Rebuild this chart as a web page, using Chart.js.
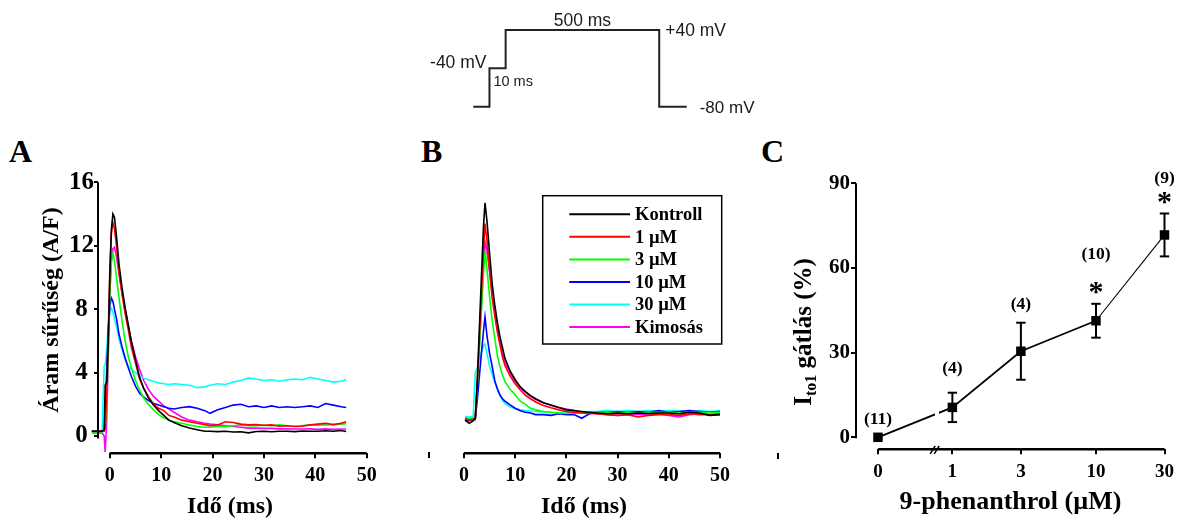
<!DOCTYPE html>
<html lang="hu">
<head>
<meta charset="utf-8">
<title>Ito1 – 9-phenanthrol</title>
<script src="https://cdn.jsdelivr.net/npm/chart.js@4.4.1/dist/chart.umd.min.js"></script>
<style>
  html, body { margin:0; padding:0; background:#fff; }
  body { width:1182px; height:518px; position:relative; overflow:hidden; }
  canvas { position:absolute; left:0; top:0; }
  .panel { position:absolute; font-family:'Liberation Serif','Times New Roman',serif; font-weight:bold; font-size:32px; line-height:32px; color:#000; }
  .stray { position:absolute; width:2px; height:6px; background:#000; }
</style>
</head>
<body>
<div class="panel" style="left:9px;top:135px">A</div>
<div class="panel" style="left:421px;top:135px">B</div>
<div class="panel" style="left:761px;top:135px">C</div>
<div class="stray" style="left:428px;top:452px"></div>
<div class="stray" style="left:777px;top:453px"></div>
<canvas id="proto" width="1182" height="518"></canvas>
<canvas id="chartA" width="1182" height="518"></canvas>
<canvas id="chartB" width="1182" height="518"></canvas>
<canvas id="chartC" width="1182" height="518"></canvas>
<script>
const SERIF = "'Liberation Serif','Times New Roman',serif";
const SANS = "'Liberation Sans',Arial,sans-serif";

// ---------- voltage protocol (schematic, not to scale) ----------
const protocolLevels = ['+40 mV', '-40 mV', '-80 mV'];   // top to bottom
const protocolSteps = ['-80 mV', '-40 mV', '+40 mV', '-80 mV'];
const protocolDurations = [10, 10, 95, 17];
const protocolDurationLabels = ['', '10 ms', '500 ms', ''];

// ---------- traces ----------
const seriesNames = ['Kontroll', '1 µM', '3 µM', '10 µM', '30 µM', 'Kimosás'];
const seriesColors = ['#000000', '#ff0000', '#00ff00', '#0000ff', '#00ffff', '#ff00ff'];
const traceTicks = [0, 10, 20, 30, 40, 50];
const currentTicks = [0, 4, 8, 12, 16];

// Panel A (time in ms, current density in A/F)
const timeA = [-3.5, -1.5, -1.1, -0.9, -0.6, -0.3, 0, 0.3, 0.6, 0.9, 1.3, 1.8, 2.4, 3, 3.6, 4.2, 5, 5.8, 6.6, 7.5, 8.5, 9.5, 10.5, 11.5, 12.5, 14, 15.5, 17, 18.5, 19.5, 21, 22.5, 24, 25.5, 27, 28.5, 30, 31.5, 33, 34.5, 36, 37.5, 39, 40.5, 42, 43.5, 45, 46];
const kontrollA = [0.3, 0.3, 0.4, 3.2, 3.4, 6.0, 10.0, 13.0, 14.0, 13.8, 12.6, 10.8, 9.3, 8.06, 7.0, 5.95, 4.8, 3.7, 3.0, 2.4, 1.95, 1.6, 1.3, 1.0, 0.85, 0.65, 0.5, 0.4, 0.3, 0.3, 0.28, 0.3, 0.25, 0.27, 0.2, 0.28, 0.3, 0.27, 0.3, 0.3, 0.28, 0.32, 0.3, 0.3, 0.33, 0.3, 0.35, 0.28];
const uM1A = [0.3, 0.3, 0.3, 0.5, 2.5, 6.5, 10.5, 12.8, 13.45, 13.1, 12.0, 10.3, 8.9, 7.7, 6.7, 5.6, 4.6, 3.6, 3.0, 2.5, 2.0, 1.75, 1.6, 1.3, 1.2, 1.0, 0.9, 0.8, 0.72, 0.65, 0.7, 0.9, 0.85, 0.75, 0.7, 0.72, 0.68, 0.7, 0.62, 0.65, 0.6, 0.62, 0.7, 0.75, 0.8, 0.72, 0.8, 0.9];
const uM3A = [0.25, 0.25, 0.3, 0.5, 2.0, 5.5, 9.0, 11.0, 11.5, 11.1, 10.0, 8.7, 7.2, 5.95, 5.0, 4.3, 3.5, 2.9, 2.4, 2.0, 1.65, 1.35, 1.15, 1.0, 0.9, 0.8, 0.7, 0.6, 0.55, 0.55, 0.6, 0.6, 0.65, 0.7, 0.65, 0.65, 0.68, 0.65, 0.7, 0.65, 0.62, 0.66, 0.7, 0.68, 0.7, 0.72, 0.75, 0.78];
const uM10A = [0.3, 0.3, 0.3, 1.5, 4.2, 6.5, 8.2, 8.7, 8.5, 8.0, 7.4, 6.4, 5.6, 4.9, 4.3, 3.75, 3.15, 2.7, 2.45, 2.25, 2.05, 1.95, 1.85, 1.75, 1.7, 1.8, 1.85, 1.75, 1.6, 1.43, 1.65, 1.8, 1.95, 2.0, 1.85, 1.9, 1.8, 1.9, 1.8, 1.85, 1.8, 1.85, 1.9, 1.8, 2.05, 1.95, 1.85, 1.8];
const uM30A = [0.3, 0.35, 4.4, 4.5, 5.5, 7.0, 7.9, 8.05, 7.8, 7.4, 6.9, 6.1, 5.4, 4.8, 4.4, 4.2, 4.0, 3.8, 3.65, 3.55, 3.45, 3.35, 3.3, 3.25, 3.3, 3.25, 3.2, 3.05, 3.1, 3.2, 3.3, 3.25, 3.4, 3.5, 3.65, 3.6, 3.5, 3.55, 3.45, 3.55, 3.6, 3.55, 3.7, 3.6, 3.5, 3.4, 3.45, 3.55];
const kimosasA = [0.2, 0.2, 0.0, -1.0, 1.0, 5.0, 9.0, 11.0, 11.8, 11.9, 11.3, 10.2, 9.0, 7.9, 6.9, 6.0, 5.0, 4.2, 3.5, 2.95, 2.5, 2.2, 1.9, 1.7, 1.5, 1.2, 1.0, 0.9, 0.8, 0.75, 0.7, 0.65, 0.6, 0.55, 0.5, 0.5, 0.48, 0.48, 0.45, 0.45, 0.44, 0.44, 0.45, 0.42, 0.45, 0.42, 0.44, 0.44];

// Panel B
const timeB = [0.2, 1.0, 1.8, 2.2, 2.6, 3.0, 3.4, 3.8, 4.1, 4.5, 5.0, 5.5, 6.0, 6.5, 7.0, 7.5, 8.0, 9, 10, 11, 12, 13, 14, 15.5, 17, 18.5, 20, 21.5, 23, 24.5, 26, 28, 30, 32, 34, 36, 38, 40, 42, 44, 46, 48, 50];
const kontrollB = [1.0, 0.8, 0.95, 1.1, 3.5, 6.8, 10.0, 13.2, 14.7, 13.5, 11.5, 9.6, 8.3, 7.2, 6.3, 5.6, 4.9, 4.1, 3.55, 3.1, 2.8, 2.55, 2.35, 2.1, 1.95, 1.8, 1.65, 1.6, 1.55, 1.5, 1.45, 1.4, 1.45, 1.4, 1.45, 1.42, 1.45, 1.45, 1.4, 1.5, 1.45, 1.3, 1.35];
const uM1B = [1.1, 1.0, 1.05, 1.1, 3.45, 6.2, 8.9, 11.7, 13.4, 12.3, 10.4, 8.7, 7.6, 6.6, 5.8, 5.0, 4.45, 3.8, 3.3, 2.9, 2.57, 2.35, 2.15, 1.93, 1.78, 1.65, 1.55, 1.48, 1.45, 1.42, 1.4, 1.35, 1.3, 1.35, 1.2, 1.3, 1.35, 1.35, 1.3, 1.4, 1.35, 1.35, 1.4];
const uM3B = [1.15, 1.1, 1.15, 1.2, 3.2, 5.55, 7.9, 10.2, 11.7, 10.5, 8.8, 7.3, 6.2, 5.1, 4.4, 3.85, 3.43, 2.95, 2.6, 2.2, 2.0, 1.75, 1.65, 1.55, 1.48, 1.45, 1.42, 1.45, 1.45, 1.48, 1.5, 1.5, 1.48, 1.5, 1.45, 1.5, 1.48, 1.5, 1.45, 1.5, 1.5, 1.48, 1.5];
const uM10B = [1.0, 0.95, 1.05, 1.1, 2.3, 3.75, 5.2, 6.6, 7.5, 6.3, 5.2, 4.4, 3.5, 3.0, 2.6, 2.35, 2.2, 1.96, 1.75, 1.6, 1.5, 1.45, 1.35, 1.35, 1.3, 1.4, 1.35, 1.35, 1.12, 1.4, 1.5, 1.5, 1.55, 1.5, 1.55, 1.5, 1.6, 1.5, 1.55, 1.6, 1.55, 1.5, 1.55];
const uM30B = [1.25, 1.2, 1.25, 4.0, 4.3, 4.8, 5.3, 5.7, 5.8, 5.2, 4.4, 3.9, 3.4, 2.95, 2.6, 2.25, 2.05, 1.85, 1.72, 1.65, 1.6, 1.58, 1.55, 1.52, 1.5, 1.48, 1.45, 1.5, 1.5, 1.55, 1.55, 1.6, 1.55, 1.6, 1.55, 1.6, 1.55, 1.6, 1.58, 1.55, 1.6, 1.55, 1.6];
const kimosasB = [1.1, 1.05, 1.1, 1.05, 3.2, 5.7, 8.2, 10.7, 12.25, 11.6, 10.4, 9.1, 7.9, 6.7, 5.9, 5.3, 4.7, 4.0, 3.45, 3.05, 2.75, 2.5, 2.3, 2.1, 1.92, 1.8, 1.7, 1.6, 1.5, 1.45, 1.4, 1.35, 1.3, 1.35, 1.38, 1.35, 1.4, 1.3, 1.2, 1.35, 1.4, 1.35, 1.35];

// ---------- Panel C (concentration-response) ----------
const concentrations = [0, 1, 3, 10, 30];
const concLabels = ['0', '1', '3', '10', '30'];
const inhibition = [0, 10.6, 30.5, 41.3, 71.7];
const inhibitionSEM = [0, 5.2, 10.1, 6.0, 7.6];
const cellCounts = [11, 4, 4, 10, 9];
const significant = [false, false, false, true, true];
const inhibitionTicks = [0, 30, 60, 90];
const nLabelLift = [13, 19.6, 14.2, 44.4, 30.7];

// ---------- helpers ----------
function drawText(ctx, str, x, y, o) {
  ctx.save();
  ctx.font = o.font; ctx.fillStyle = o.color || '#000';
  ctx.textAlign = o.align || 'center'; ctx.textBaseline = o.baseline || 'alphabetic';
  ctx.translate(x, y); if (o.rotate) ctx.rotate(o.rotate);
  ctx.fillText(str, 0, 0);
  ctx.restore();
}
function seg(ctx, x1, y1, x2, y2, w, color) {
  ctx.save(); ctx.strokeStyle = color || '#000'; ctx.lineWidth = w; ctx.lineCap = 'butt';
  ctx.beginPath(); ctx.moveTo(x1, y1); ctx.lineTo(x2, y2); ctx.stroke(); ctx.restore();
}
const setTicks = vals => scale => { scale.ticks = vals.map(v => ({ value: v })); };
const tickGrid = len => ({ display: true, drawOnChartArea: false, drawTicks: true, tickLength: len, lineWidth: 2, color: '#000' });
const tickFont = size => ({ family: SERIF, size: size, weight: 'bold', lineHeight: 1 });
function traceDatasets(time, series) {
  return series.map((vals, i) => ({
    label: seriesNames[i],
    data: time.map((t, j) => ({ x: t, y: vals[j] })),
    borderColor: seriesColors[i], backgroundColor: seriesColors[i],
    borderWidth: 1.6, pointRadius: 0, tension: 0, clip: false
  }));
}
const base = { responsive: false, animation: false, devicePixelRatio: 1,
  plugins: { legend: { display: false }, tooltip: { enabled: false } } };

// ---------- protocol chart ----------
const protoPts = [];
let tCum = 0;
const stepTimes = [];
protocolSteps.forEach((lv, i) => { protoPts.push({ x: tCum, y: lv }); stepTimes.push(tCum); tCum += protocolDurations[i]; });
protoPts.push({ x: tCum, y: protocolSteps[protocolSteps.length - 1] });
stepTimes.push(tCum);

const protoLabels = { id: 'protoLabels', afterDraw(chart) {
  const { ctx, scales: { x, y } } = chart;
  const py = lv => y.getPixelForValue(protocolLevels.indexOf(lv));
  const px = t => x.getPixelForValue(t);
  const f = s => `${s}px ${SANS}`;
  const col = '#1a1a1a';
  drawText(ctx, protocolDurationLabels[2], (px(stepTimes[2]) + px(stepTimes[3])) / 2, py('+40 mV') - 4, { font: f(17.5), color: col });
  drawText(ctx, '+40 mV', px(stepTimes[3]) + 6, py('+40 mV') + 6, { font: f(17.5), align: 'left', color: col });
  drawText(ctx, '-40 mV', px(stepTimes[1]) - 3, py('-40 mV') - 0.6, { font: f(17.5), align: 'right', color: col });
  drawText(ctx, protocolDurationLabels[1], px(stepTimes[1]) + 4, py('-40 mV') + 17.7, { font: f(14.5), align: 'left', color: col });
  drawText(ctx, '-80 mV', px(stepTimes[4]) + 13, py('-80 mV') + 6, { font: f(17), align: 'left', color: col });
} };

new Chart(document.getElementById('proto'), {
  type: 'line',
  data: { datasets: [{ data: protoPts, stepped: 'before', borderColor: '#222', borderWidth: 2, pointRadius: 0, clip: false }] },
  options: { ...base,
    layout: { padding: { left: 473.3, right: 1182 - 686.7, top: 30, bottom: 518 - 106.7 } },
    scales: { x: { type: 'linear', min: 0, max: tCum, display: false },
              y: { type: 'category', labels: protocolLevels, display: false, offset: false } } },
  plugins: [protoLabels]
});

// ---------- panel A ----------
const yAxisTimeA = -2.3;
const decorA = { id: 'decorA', afterDraw(chart) {
  const { ctx, chartArea: ca, scales: { x, y } } = chart;
  seg(ctx, x.getPixelForValue(traceTicks[0]), ca.bottom, x.getPixelForValue(traceTicks[traceTicks.length - 1]), ca.bottom, 2.5);
  seg(ctx, ca.left, y.getPixelForValue(currentTicks[currentTicks.length - 1]), ca.left, y.getPixelForValue(-0.15), 2);
  drawText(ctx, 'Idő (ms)', 230, 512.7, { font: `bold 24px ${SERIF}` });
  drawText(ctx, 'Áram sűrűség (A/F)', 57.5, 310, { font: `bold 24px ${SERIF}`, rotate: -Math.PI / 2 });
} };

new Chart(document.getElementById('chartA'), {
  type: 'line',
  data: { datasets: traceDatasets(timeA, [kontrollA, uM1A, uM3A, uM10A, uM30A, kimosasA]) },
  options: { ...base,
    layout: { padding: { left: 0, right: 1182 - 366.7, top: 182.3, bottom: 24.7 } },
    scales: {
      x: { type: 'linear', min: yAxisTimeA, max: 50, afterBuildTicks: setTicks(traceTicks), afterFit: s => { s.height = 40; },
           grid: tickGrid(5), border: { display: false },
           ticks: { color: '#000', font: tickFont(20), padding: 8, maxRotation: 0, autoSkip: false } },
      y: { type: 'linear', min: -1.09, max: 16, afterBuildTicks: setTicks(currentTicks), afterFit: s => { s.width = 98; },
           grid: tickGrid(4), border: { display: false },
           ticks: { color: '#000', font: tickFont(25), padding: 0, crossAlign: 'center', autoSkip: false } }
    } },
  plugins: [decorA]
});

// ---------- panel B ----------
const decorB = { id: 'decorB', afterDraw(chart) {
  const { ctx, chartArea: ca, scales: { x } } = chart;
  seg(ctx, x.getPixelForValue(traceTicks[0]), ca.bottom, x.getPixelForValue(traceTicks[traceTicks.length - 1]), ca.bottom, 2.5);
  drawText(ctx, 'Idő (ms)', 584, 512.7, { font: `bold 24px ${SERIF}` });
  // legend box
  const lx = ca.left + 78.7, ly = ca.top + 13.4, lw = 179, lh = 148.3;
  ctx.save();
  ctx.fillStyle = '#fff'; ctx.fillRect(lx, ly, lw, lh);
  ctx.strokeStyle = '#000'; ctx.lineWidth = 1.5; ctx.strokeRect(lx, ly, lw, lh);
  ctx.restore();
  chart.data.datasets.forEach((ds, i) => {
    const ry = ly + 18.6 + i * 22.54;
    seg(ctx, lx + 26.6, ry, lx + 87.3, ry, 2, ds.borderColor);
    drawText(ctx, ds.label, lx + 92.3, ry + 1, { font: `bold 18.5px ${SERIF}`, align: 'left', baseline: 'middle' });
  });
} };

new Chart(document.getElementById('chartB'), {
  type: 'line',
  data: { datasets: traceDatasets(timeB, [kontrollB, uM1B, uM3B, uM10B, uM30B, kimosasB]) },
  options: { ...base,
    layout: { padding: { left: 464, right: 1182 - 720, top: 182.3, bottom: 24.7 } },
    scales: {
      x: { type: 'linear', min: 0, max: 50, afterBuildTicks: setTicks(traceTicks), afterFit: s => { s.height = 40; },
           grid: tickGrid(5), border: { display: false },
           ticks: { color: '#000', font: tickFont(20), padding: 8, maxRotation: 0, autoSkip: false } },
      y: { type: 'linear', min: -1.09, max: 16, display: false }
    } },
  plugins: [decorB]
});

// ---------- panel C ----------
const zeroPos = -0.518;           // position of the 0 µM point left of the axis break
const breakPos = -0.109;          // axis break
const concPos = c => c > 0 ? Math.log10(c) : zeroPos;
const posC = concentrations.map(concPos);

const decorC = { id: 'decorC',
  beforeDatasetsDraw(chart) {
    const { ctx, scales: { x, y } } = chart;
    posC.forEach((p, i) => {
      if (!inhibitionSEM[i]) return;
      const px = x.getPixelForValue(p);
      const yt = y.getPixelForValue(inhibition[i] + inhibitionSEM[i]);
      const yb = y.getPixelForValue(inhibition[i] - inhibitionSEM[i]);
      seg(ctx, px, yt, px, yb, 2);
      seg(ctx, px - 4.7, yt, px + 4.7, yt, 2);
      seg(ctx, px - 4.7, yb, px + 4.7, yb, 2);
    });
  },
  afterDatasetsDraw(chart) {
    const { ctx, scales: { x, y } } = chart;
    const bx = x.getPixelForValue(breakPos);
    const x0 = x.getPixelForValue(posC[0]), x1 = x.getPixelForValue(posC[1]);
    const y0 = y.getPixelForValue(inhibition[0]), y1 = y.getPixelForValue(inhibition[1]);
    const yl = y0 + (y1 - y0) * (bx - x0) / (x1 - x0);
    ctx.clearRect(bx - 2, yl - 4, 4, 8);
  },
  afterDraw(chart) {
    const { ctx, chartArea: ca, scales: { x, y } } = chart;
    seg(ctx, x.getPixelForValue(posC[0]), ca.bottom, x.getPixelForValue(posC[posC.length - 1]), ca.bottom, 2.5);
    seg(ctx, ca.left, y.getPixelForValue(inhibitionTicks[inhibitionTicks.length - 1]), ca.left, y.getPixelForValue(0) + 1, 2);
    const bx = x.getPixelForValue(breakPos);
    for (let k = 0; k < 2; k++) {
      const cx = bx - 4 + 4 * k;
      seg(ctx, cx - 2.5, ca.bottom + 4.5, cx + 2.5, ca.bottom - 3.5, 1.5);
    }
    posC.forEach((p, i) => {
      const px = x.getPixelForValue(p);
      const top = y.getPixelForValue(inhibition[i] + inhibitionSEM[i]);
      drawText(ctx, `(${cellCounts[i]})`, px, top - nLabelLift[i], { font: `bold 17.5px ${SERIF}` });
      if (significant[i]) drawText(ctx, '*', px, top - 2.5, { font: `bold 30px ${SERIF}` });
    });
    drawText(ctx, '9-phenanthrol (µM)', 1010.5, 509.3, { font: `bold 26px ${SERIF}` });
    // y title with subscript
    ctx.save();
    ctx.translate(811, 332); ctx.rotate(-Math.PI / 2);
    const fMain = `bold 25px ${SERIF}`, fSub = `bold 16px ${SERIF}`;
    ctx.font = fMain; const wI = ctx.measureText('I').width; const wRest = ctx.measureText(' gátlás (%)').width;
    ctx.font = fSub; const wSub = ctx.measureText('to1').width;
    let cx = -(wI + wSub + wRest) / 2;
    ctx.fillStyle = '#000'; ctx.textBaseline = 'alphabetic'; ctx.textAlign = 'left';
    ctx.font = fMain; ctx.fillText('I', cx, 0); cx += wI;
    ctx.font = fSub; ctx.fillText('to1', cx, 5); cx += wSub;
    ctx.font = fMain; ctx.fillText(' gátlás (%)', cx, 0);
    ctx.restore();
  }
};

new Chart(document.getElementById('chartC'), {
  type: 'line',
  data: { datasets: [{
    data: posC.map((p, i) => ({ x: p, y: inhibition[i] })),
    borderColor: '#000', borderWidth: 1.8, tension: 0, clip: false,
    pointStyle: 'rect', pointRadius: 6.7, pointBackgroundColor: '#000', pointBorderColor: '#000', pointBorderWidth: 0,
    segment: { borderWidth: c => c.p1DataIndex === concentrations.length - 1 ? 1.1 : 1.8 }
  }] },
  options: { ...base,
    layout: { padding: { left: 760, right: 12.3, top: 183.3, bottom: 28.7 } },
    scales: {
      x: { type: 'linear', min: zeroPos - 0.153, max: posC[posC.length - 1], afterBuildTicks: setTicks(posC), afterFit: s => { s.height = 40; },
           grid: tickGrid(5), border: { display: false },
           ticks: { color: '#000', font: tickFont(19), padding: 8, maxRotation: 0, autoSkip: false, callback: (v, i) => concLabels[i] } },
      y: { type: 'linear', min: -4.25, max: 90, afterBuildTicks: setTicks(inhibitionTicks), afterFit: s => { s.width = 96; },
           grid: tickGrid(5), border: { display: false },
           ticks: { color: '#000', font: tickFont(21), padding: 1, autoSkip: false } }
    } },
  plugins: [decorC]
});
</script>
</body>
</html>
